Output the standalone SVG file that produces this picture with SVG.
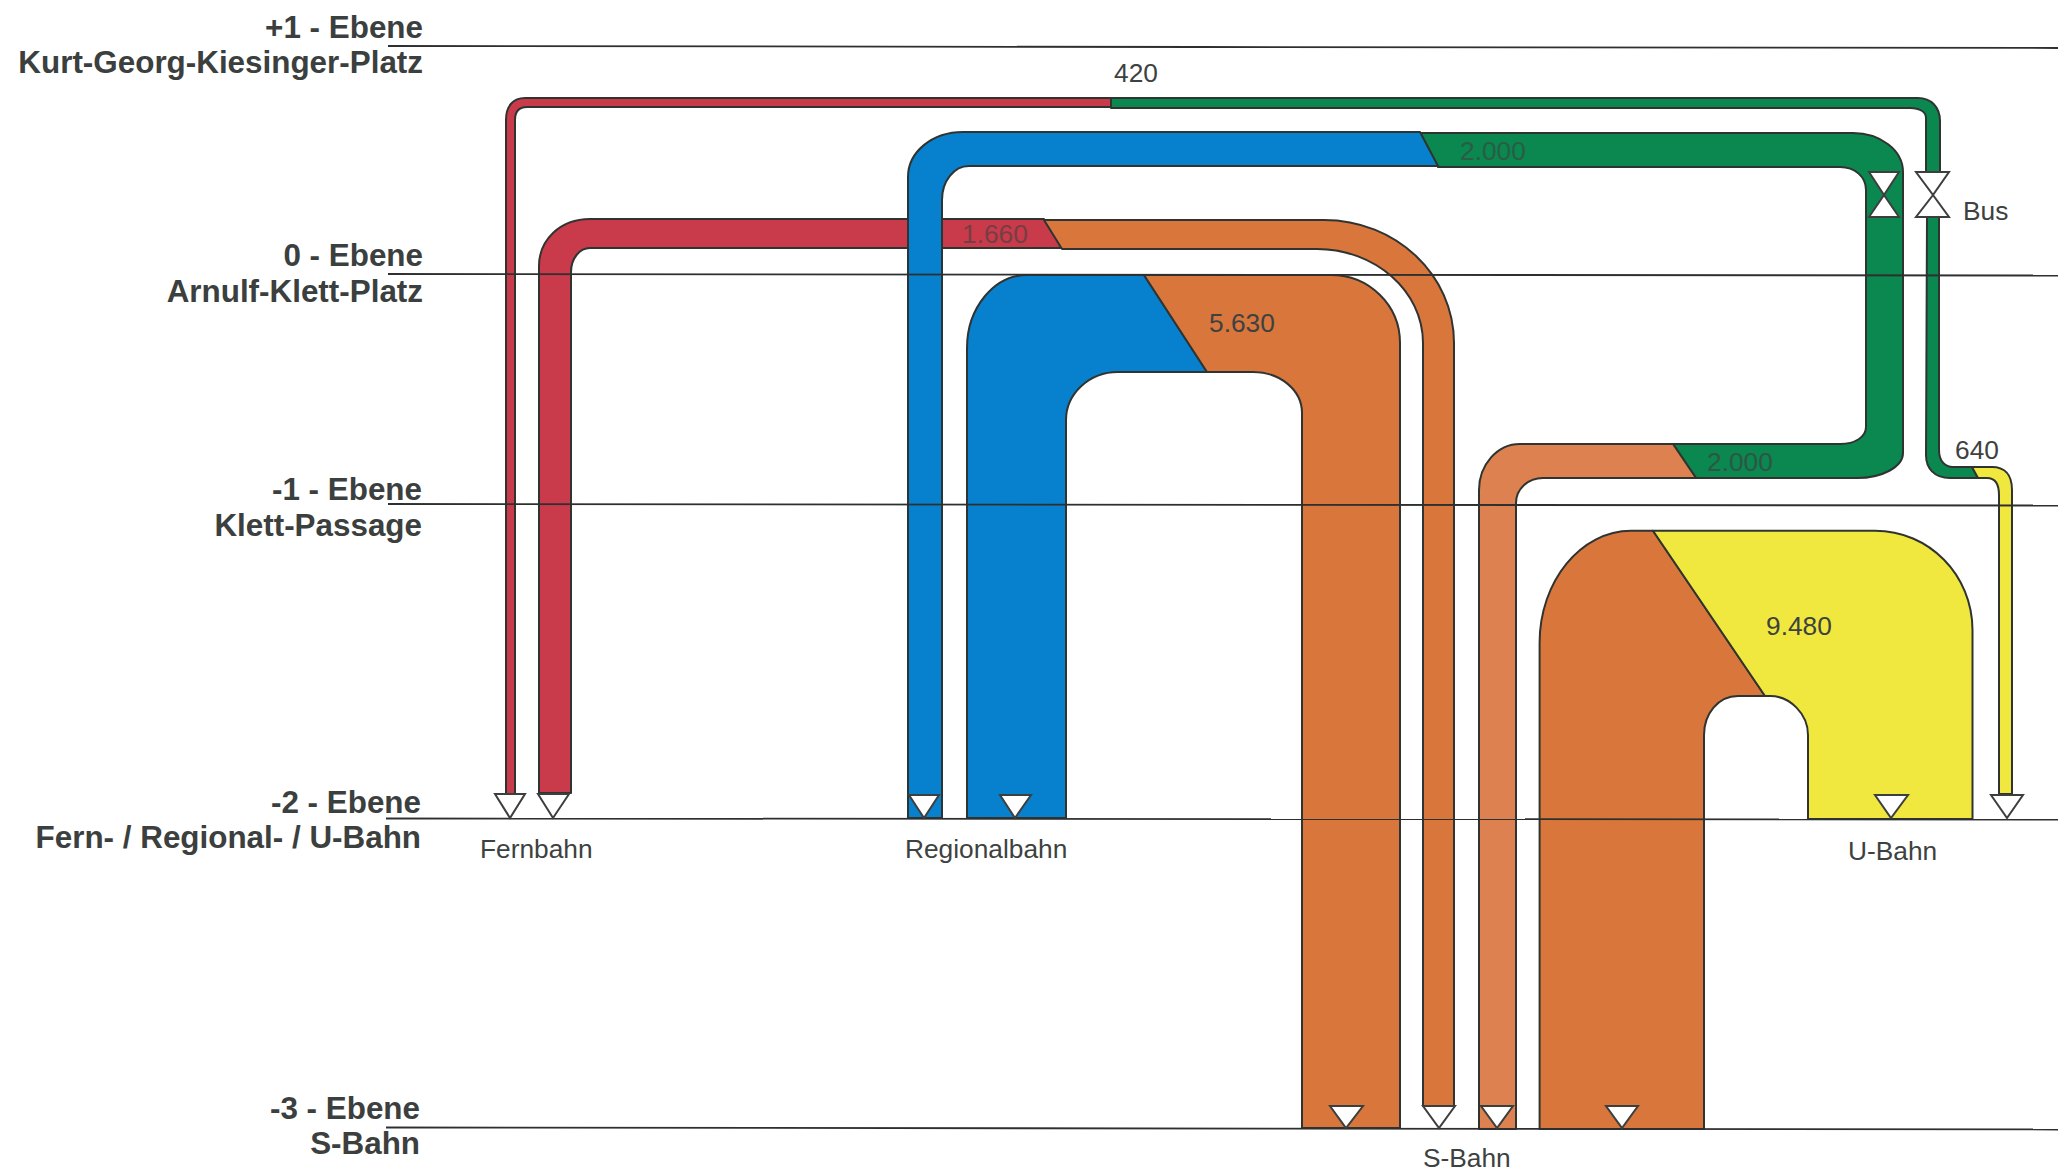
<svg xmlns="http://www.w3.org/2000/svg" width="2058" height="1171" viewBox="0 0 2058 1171">
<style>
.bg{fill:#fff}
.s{stroke:#2f3431;stroke-width:2;stroke-linejoin:round}
.red{fill:#c93a4b}.green{fill:#0b8750}.blue{fill:#0781cd}.orange{fill:#d9763c}.lorange{fill:#de8150}.yellow{fill:#f0e83e}
.lvl{stroke:#2e302f;stroke-width:1.8;fill:none}
.tri{fill:#fff;stroke:#3c3f3e;stroke-width:2}
.h{font:bold 31.400px "Liberation Sans",Arial,sans-serif;fill:#3b403e;text-anchor:end}
.t{font:26.300px "Liberation Sans",Arial,sans-serif;fill:#3d4240}
</style>
<rect class="bg" width="2058" height="1171"/>
<g id="connectors">
<g id="flow-420">
<path class="red s" d="M1111 98H525C513 98 506 106 506 120V794H515V120C515 111 519 107 527 107H1111Z"/>
<path class="green s" d="M1111 98H1918C1931 98 1940 107 1940 121V172H1926V118C1926 112 1920 108 1910 108H1111Z"/>
<path class="green s" d="M1927 217H1939V450C1939 461 1945 467 1953 467H1972L1978 478H1950C1934 478 1926 468 1926 455Z"/>
<path class="yellow s" d="M1972 467H1992C2004 467 2012 474 2012 490V794H1999V495C1999 483 1995 478 1987 478H1978Z"/>
</g>
<g id="flow-1660">
<path class="red s" d="M1044 219H590C560 219 539 240 539 266V793H571V272C571 258 580 248 590 248H1062Z"/>
<path class="orange s" d="M1044 220H1324C1396 220 1454 275 1454 343V1106H1423V343C1423 291 1375 249 1317 249H1062Z"/>
</g>
<g id="flow-2000">
<path class="green s" d="M1420 133H1853C1880 133 1903 150 1903 172V453C1903 467 1882 478 1857 478H1696L1673 444H1840C1855 444 1866 437 1866 427V190C1866 177 1855 167 1840 167H1438Z"/>
<path class="blue s" d="M1420 132H963C932 132 908 152 908 177V818H942V200C942 181 954 166 969 166H1438Z"/>
<path class="lorange s" d="M1673 444H1520C1497 444 1479 465 1479 490V1129H1516V503C1516 489 1528 478 1543 478H1696Z"/>
</g>
<g id="flow-5630">
<path class="blue s" d="M1144 275H1027C994 275 967 308 967 348V818H1066V420C1066 394 1089 372 1118 372H1207Z"/>
<path class="orange s" d="M1144 275H1331C1369 275 1400 305 1400 343V1128H1302V413C1302 390 1280 372 1253 372H1207Z"/>
</g>
<g id="flow-9480">
<path class="orange s" d="M1653 530.700H1631C1581 530.700 1539.600 581 1539.600 643V1129H1704V735C1704 714 1718 696 1738 696H1765Z"/>
<path class="yellow s" d="M1653 530.700H1875C1929 530.700 1972.500 575 1972.500 630V819H1808V735C1808 714 1790 696 1770 696H1765Z"/>
</g>
<g id="levels">
<path class="lvl" d="M388 46L1200 47L2058 48"/>
<path class="lvl" d="M388 274L2058 275.500"/>
<path class="lvl" d="M388 504L2058 505.500"/>
<path class="lvl" d="M386 818.500L2058 819.500"/>
<path class="lvl" d="M386 1127.500L2058 1129.500"/>
</g>
</g>
<g id="markers">
<path class="tri" d="M495 794H525L510 818Z"/>
<path class="tri" d="M538 794H569L553 818Z"/>
<path class="tri" d="M909 795H939L924 818Z"/>
<path class="tri" d="M1000 795H1031L1015 818Z"/>
<path class="tri" d="M1330 1106H1363L1346 1128Z"/>
<path class="tri" d="M1423 1106H1455L1439 1128Z"/>
<path class="tri" d="M1481 1106H1513L1497 1128Z"/>
<path class="tri" d="M1606 1106H1638L1622 1128Z"/>
<path class="tri" d="M1875 795H1908L1891 818Z"/>
<path class="tri" d="M1991 795H2023L2007 818Z"/>
<path class="tri" d="M1869 172H1899L1884 195L1899 217H1869L1884 195Z"/>
<path class="tri" d="M1916 172H1949L1933 195L1949 217H1916L1933 195Z"/>
</g>
<g id="level-labels">
<text class="h" x="423" y="38">+1 - Ebene</text>
<text class="h" x="423" y="73">Kurt-Georg-Kiesinger-Platz</text>
<text class="h" x="423" y="266">0 - Ebene</text>
<text class="h" x="423" y="302">Arnulf-Klett-Platz</text>
<text class="h" x="422" y="500">-1 - Ebene</text>
<text class="h" x="422" y="536">Klett-Passage</text>
<text class="h" x="421" y="813">-2 - Ebene</text>
<text class="h" x="421" y="848">Fern- / Regional- / U-Bahn</text>
<text class="h" x="420" y="1119">-3 - Ebene</text>
<text class="h" x="420" y="1154">S-Bahn</text>
</g>
<g id="labels">
<text class="t" x="1114" y="82">420</text>
<text class="t" x="1963" y="220">Bus</text>
<text class="t" x="1955" y="459">640</text>
<text class="t" x="1460" y="160" opacity=".6">2.000</text>
<text class="t" x="1707" y="471" opacity=".7">2.000</text>
<text class="t" x="962" y="243" opacity=".6">1.660</text>
<text class="t" x="1209" y="332">5.630</text>
<text class="t" x="1766" y="635">9.480</text>
<text class="t" x="480" y="858">Fernbahn</text>
<text class="t" x="905" y="858">Regionalbahn</text>
<text class="t" x="1848" y="860">U-Bahn</text>
<text class="t" x="1423" y="1167">S-Bahn</text>
</g>
</svg>
